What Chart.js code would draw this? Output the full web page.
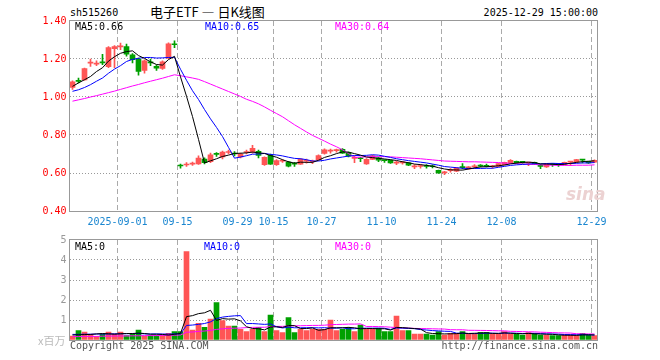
<!DOCTYPE html>
<html lang="zh">
<head>
<meta charset="UTF-8" />
<title>电子ETF 日K线图</title>
<script src="https://cdn.jsdelivr.net/npm/chart.js"></script>
<style>
  body { margin: 0; background: #fff; }
  #box { position: relative; width: 660px; height: 360px; overflow: hidden;
         font-family: 'DejaVu Sans Mono', monospace; font-size: 10px; line-height: 12px; }
  #box canvas { position: absolute; left: 0; }
  .t { position: absolute; white-space: nowrap; }
</style>
</head>
<body>
<div id="box">
  <div class="t" style="left:70px;top:7px">sh515260</div>
  <div class="t" style="left:150px;top:4px;font-family:'Noto Sans CJK SC';font-size:13px;line-height:16px">电子ETF — 日K线图</div>
  <div class="t" style="right:62px;top:7px">2025-12-29 15:00:00</div>

  <canvas id="kline" width="660" height="232" style="top:0"></canvas>
  <canvas id="vol" width="660" height="120" style="top:230px"></canvas>

  <div class="t" style="left:75px;top:21px">MA5:0.66</div>
  <div class="t" style="left:205px;top:21px;color:#0000ff">MA10:0.65</div>
  <div class="t" style="left:335px;top:21px;color:#ff00ff">MA30:0.64</div>
  <div class="t" style="left:566px;top:184px;font-family:'DejaVu Sans';font-size:17px;line-height:20px;font-style:italic;font-weight:bold;color:#ecd2d2">sina</div>

  <div class="t" style="left:75px;top:241px">MA5:0</div>
  <div class="t" style="left:204px;top:241px;color:#0000ff">MA10:0</div>
  <div class="t" style="left:335px;top:241px;color:#ff00ff">MA30:0</div>
  <div class="t" style="left:38px;top:333px;font-family:'Noto Sans CJK SC';font-size:11px;line-height:14px;color:#bbb">x百万</div>

  <div class="t" style="left:70px;top:340px;color:#555">Copyright 2025 SINA.COM</div>
  <div class="t" style="right:62px;top:340px;color:#555">http://finance.sina.com.cn</div>
</div>

<script>
  // trading days shown on the chart
  const dates = [
    '2025-08-20','2025-08-21','2025-08-22','2025-08-25','2025-08-26','2025-08-27','2025-08-28','2025-08-29',
    '2025-09-01','2025-09-02','2025-09-03','2025-09-04','2025-09-05','2025-09-08','2025-09-09','2025-09-10',
    '2025-09-11','2025-09-12','2025-09-15','2025-09-16','2025-09-17','2025-09-18','2025-09-19','2025-09-22',
    '2025-09-23','2025-09-24','2025-09-25','2025-09-26','2025-09-29','2025-09-30','2025-10-09','2025-10-10',
    '2025-10-13','2025-10-14','2025-10-15','2025-10-16','2025-10-17','2025-10-20','2025-10-21','2025-10-22',
    '2025-10-23','2025-10-24','2025-10-27','2025-10-28','2025-10-29','2025-10-30','2025-10-31','2025-11-03',
    '2025-11-04','2025-11-05','2025-11-06','2025-11-07','2025-11-10','2025-11-11','2025-11-12','2025-11-13',
    '2025-11-14','2025-11-17','2025-11-18','2025-11-19','2025-11-20','2025-11-21','2025-11-24','2025-11-25',
    '2025-11-26','2025-11-27','2025-11-28','2025-12-01','2025-12-02','2025-12-03','2025-12-04','2025-12-05',
    '2025-12-08','2025-12-09','2025-12-10','2025-12-11','2025-12-12','2025-12-15','2025-12-16','2025-12-17',
    '2025-12-18','2025-12-19','2025-12-22','2025-12-23','2025-12-24','2025-12-25','2025-12-26','2025-12-29'
  ];
  // indexes of the dates that get a label and a grid line
  const dateTickIdx = [8, 18, 28, 34, 42, 52, 62, 72, 87];

  const open = [
    1.050,1.085,1.090,1.178,1.173,1.185,1.160,1.255,1.264,1.265,
    1.222,1.200,1.140,1.184,1.162,1.150,1.205,1.280,0.640,0.642,
    0.647,0.648,0.673,0.660,0.700,0.685,0.708,0.702,0.685,0.708,
    0.712,0.714,0.644,0.693,0.644,0.662,0.658,0.648,0.647,0.662,
    0.659,0.670,0.703,0.715,0.718,0.725,0.706,0.677,0.677,0.648,
    0.672,0.680,0.667,0.667,0.652,0.653,0.653,0.632,0.634,0.636,
    0.635,0.614,0.601,0.612,0.609,0.632,0.621,0.633,0.638,0.637,
    0.633,0.635,0.644,0.653,0.661,0.661,0.652,0.656,0.637,0.632,
    0.647,0.648,0.645,0.657,0.658,0.670,0.661,0.657
  ];
  const high = [
    1.085,1.100,1.152,1.200,1.190,1.225,1.265,1.270,1.284,1.278,
    1.228,1.205,1.195,1.200,1.168,1.190,1.285,1.295,0.647,0.655,
    0.657,0.690,0.680,0.705,0.708,0.715,0.720,0.713,0.705,0.720,
    0.745,0.720,0.685,0.700,0.670,0.670,0.662,0.656,0.676,0.673,
    0.668,0.695,0.727,0.726,0.726,0.728,0.710,0.690,0.683,0.676,
    0.693,0.684,0.668,0.669,0.661,0.661,0.655,0.644,0.644,0.644,
    0.643,0.616,0.609,0.623,0.628,0.649,0.634,0.644,0.644,0.647,
    0.640,0.650,0.658,0.670,0.663,0.662,0.656,0.658,0.644,0.649,
    0.648,0.650,0.658,0.662,0.672,0.671,0.662,0.669
  ];
  const low = [
    1.040,1.074,1.088,1.161,1.165,1.170,1.155,1.155,1.249,1.215,
    1.180,1.115,1.125,1.165,1.140,1.145,1.200,1.260,0.626,0.635,
    0.640,0.645,0.648,0.655,0.687,0.674,0.700,0.690,0.680,0.700,
    0.705,0.680,0.640,0.645,0.640,0.656,0.632,0.634,0.645,0.652,
    0.649,0.668,0.699,0.705,0.710,0.703,0.685,0.655,0.660,0.645,
    0.670,0.660,0.656,0.651,0.644,0.647,0.638,0.623,0.626,0.626,
    0.627,0.598,0.591,0.604,0.607,0.621,0.620,0.626,0.632,0.632,
    0.626,0.633,0.642,0.651,0.651,0.650,0.639,0.645,0.623,0.630,
    0.635,0.635,0.643,0.640,0.656,0.653,0.651,0.655
  ];
  const close = [
    1.080,1.082,1.150,1.180,1.176,1.180,1.260,1.265,1.267,1.225,
    1.197,1.135,1.190,1.180,1.152,1.185,1.280,1.275,0.637,0.644,
    0.649,0.678,0.655,0.695,0.698,0.710,0.710,0.700,0.700,0.710,
    0.730,0.692,0.682,0.647,0.666,0.663,0.636,0.646,0.673,0.664,
    0.661,0.692,0.722,0.717,0.720,0.705,0.688,0.680,0.675,0.672,
    0.690,0.668,0.665,0.653,0.654,0.655,0.641,0.634,0.636,0.634,
    0.633,0.601,0.603,0.615,0.626,0.628,0.632,0.636,0.636,0.635,
    0.635,0.649,0.656,0.667,0.653,0.653,0.654,0.647,0.635,0.647,
    0.645,0.646,0.656,0.661,0.670,0.668,0.653,0.667
  ];
  const ma5 = [
    1.056,1.074,1.091,1.108,1.134,1.154,1.189,1.212,1.230,1.239,
    1.243,1.218,1.203,1.185,1.171,1.168,1.197,1.214,1.106,1.004,
    0.897,0.777,0.653,0.664,0.675,0.687,0.694,0.703,0.704,0.706,
    0.710,0.706,0.703,0.692,0.683,0.670,0.659,0.652,0.657,0.656,
    0.656,0.667,0.682,0.691,0.702,0.711,0.710,0.702,0.694,0.684,
    0.681,0.677,0.674,0.670,0.666,0.659,0.654,0.647,0.644,0.640,
    0.636,0.628,0.621,0.617,0.616,0.615,0.621,0.627,0.632,0.633,
    0.635,0.638,0.642,0.648,0.652,0.656,0.657,0.655,0.648,0.647,
    0.646,0.644,0.646,0.651,0.656,0.660,0.662,0.664
  ];
  const ma10 = [
    1.030,1.038,1.050,1.065,1.083,1.100,1.125,1.147,1.165,1.187,
    1.198,1.204,1.208,1.208,1.205,1.206,1.208,1.209,1.146,1.088,
    1.033,0.987,0.934,0.885,0.840,0.792,0.735,0.678,0.684,0.691,
    0.699,0.700,0.703,0.698,0.695,0.690,0.683,0.677,0.675,0.670,
    0.663,0.663,0.667,0.674,0.679,0.684,0.689,0.692,0.692,0.693,
    0.696,0.694,0.688,0.682,0.675,0.670,0.665,0.661,0.657,0.653,
    0.647,0.641,0.634,0.631,0.628,0.625,0.624,0.624,0.624,0.625,
    0.625,0.630,0.635,0.640,0.643,0.645,0.647,0.649,0.648,0.650,
    0.651,0.650,0.650,0.650,0.651,0.653,0.653,0.655
  ];
  const ma30 = [
    0.978,0.985,0.992,1.000,1.007,1.015,1.023,1.031,1.040,1.049,
    1.058,1.066,1.075,1.083,1.091,1.099,1.108,1.117,1.112,1.106,
    1.100,1.093,1.081,1.068,1.055,1.042,1.029,1.016,1.003,0.988,
    0.977,0.964,0.948,0.930,0.913,0.896,0.875,0.854,0.835,0.816,
    0.798,0.783,0.768,0.752,0.738,0.722,0.702,0.682,0.684,0.685,
    0.686,0.686,0.686,0.685,0.683,0.681,0.679,0.677,0.675,0.672,
    0.669,0.666,0.663,0.662,0.661,0.660,0.659,0.659,0.658,0.657,
    0.656,0.655,0.652,0.651,0.649,0.647,0.646,0.645,0.643,0.642,
    0.641,0.640,0.640,0.640,0.641,0.641,0.641,0.643
  ];
  // volume, millions of shares
  const volume = [
    0.20,0.47,0.40,0.28,0.17,0.30,0.40,0.30,0.40,0.22,
    0.30,0.50,0.20,0.22,0.22,0.25,0.33,0.42,0.42,4.42,
    0.50,0.83,0.63,1.05,1.87,0.97,0.70,0.70,0.53,0.42,
    0.53,0.63,0.42,1.25,0.47,0.37,1.12,0.37,0.53,0.47,
    0.53,0.53,0.53,1.00,0.47,0.53,0.63,0.42,0.75,0.53,
    0.53,0.58,0.42,0.42,1.20,0.47,0.47,0.30,0.30,0.30,
    0.25,0.42,0.25,0.33,0.33,0.42,0.30,0.30,0.38,0.38,
    0.30,0.30,0.42,0.30,0.30,0.25,0.37,0.33,0.25,0.25,
    0.22,0.22,0.25,0.25,0.22,0.33,0.25,0.22
  ];
  const volMa5 = [
    0.250,0.260,0.270,0.280,0.304,0.324,0.310,0.290,0.314,0.324,
    0.324,0.344,0.324,0.288,0.288,0.278,0.244,0.288,0.328,1.168,
    1.218,1.318,1.360,1.486,0.976,1.070,1.044,1.058,0.954,0.664,
    0.576,0.562,0.506,0.650,0.660,0.628,0.726,0.716,0.572,0.572,
    0.604,0.486,0.518,0.612,0.612,0.612,0.632,0.610,0.560,0.572,
    0.572,0.562,0.562,0.496,0.630,0.618,0.596,0.572,0.548,0.368,
    0.324,0.314,0.304,0.310,0.316,0.350,0.326,0.336,0.346,0.356,
    0.332,0.332,0.356,0.340,0.324,0.314,0.328,0.310,0.300,0.290,
    0.284,0.254,0.238,0.238,0.232,0.254,0.260,0.254
  ];
  const volMa10 = [
    0.280,0.280,0.290,0.290,0.300,0.300,0.300,0.310,0.310,0.314,
    0.324,0.327,0.307,0.301,0.306,0.301,0.294,0.306,0.308,0.728,
    0.748,0.781,0.824,0.907,1.072,1.144,1.181,1.209,1.220,0.820,
    0.823,0.803,0.782,0.802,0.662,0.602,0.644,0.611,0.611,0.616,
    0.616,0.606,0.617,0.592,0.592,0.608,0.559,0.564,0.586,0.592,
    0.592,0.597,0.586,0.528,0.601,0.595,0.579,0.567,0.522,0.499,
    0.471,0.455,0.438,0.429,0.342,0.337,0.320,0.320,0.328,0.336,
    0.341,0.329,0.346,0.343,0.340,0.323,0.330,0.333,0.320,0.307,
    0.299,0.291,0.274,0.269,0.261,0.269,0.257,0.246
  ];
  const volMa30 = [
    0.170,0.170,0.180,0.180,0.180,0.190,0.190,0.200,0.200,0.200,
    0.210,0.210,0.220,0.220,0.220,0.230,0.230,0.240,0.250,0.390,
    0.400,0.430,0.450,0.480,0.530,0.560,0.580,0.590,0.600,0.621,
    0.632,0.637,0.638,0.670,0.680,0.682,0.706,0.709,0.713,0.721,
    0.729,0.730,0.741,0.767,0.775,0.785,0.795,0.795,0.806,0.676,
    0.677,0.669,0.662,0.641,0.618,0.602,0.594,0.581,0.573,0.569,
    0.560,0.553,0.547,0.516,0.512,0.513,0.486,0.484,0.479,0.476,
    0.468,0.460,0.457,0.433,0.428,0.418,0.410,0.407,0.390,0.381,
    0.370,0.358,0.353,0.347,0.314,0.310,0.302,0.300
  ];

  const RED = '#ff5555';
  const GREEN = '#00a000';
  const NONE = 'rgba(0,0,0,0)';
  const candleColor = close.map((c, i) => c >= open[i] ? RED : GREEN);

  Chart.defaults.font.family = "'DejaVu Sans Mono', monospace";
  Chart.defaults.font.size = 10;
  Chart.defaults.animation = false;

  // grey box round the plot area
  const frame = {
    id: 'frame',
    afterDatasetsDraw(chart) {
      const { ctx, chartArea: a } = chart;
      ctx.save();
      ctx.strokeStyle = '#999';
      ctx.lineWidth = 1;
      ctx.strokeRect(a.left, a.top - 0.5, a.right - a.left, a.bottom - a.top + 1);
      ctx.restore();
    }
  };

  const dateGrid = c => dateTickIdx.includes(c.index) ? '#aaa' : NONE;

  function maLine(data, color, order) {
    return { type: 'line', data, borderColor: color, borderWidth: 1, pointRadius: 0, tension: 0, order };
  }

  function xScale(showLabels) {
    return {
      offset: true,
      grid: { offset: true, drawTicks: false, color: dateGrid },
      border: { display: false, dash: [5, 3] },
      ticks: {
        display: showLabels, autoSkip: false, maxRotation: 0, minRotation: 0,
        padding: 5, labelOffset: -3, color: '#1a86d0',
        callback: (v, i) => dateTickIdx.includes(i) ? (i === 8 ? dates[i] : dates[i].slice(5)) : ''
      },
      afterFit: s => { s.height = showLabels ? 21 : 0; }
    };
  }

  new Chart(document.getElementById('kline'), {
    type: 'bar',
    data: {
      labels: dates,
      datasets: [
        maLine(ma5, '#000000', 0),
        maLine(ma10, '#0000ff', 1),
        maLine(ma30, '#ff00ff', 2),
        { data: dates.map((d, i) => [open[i], close[i]]), backgroundColor: candleColor,
          barThickness: 5, minBarLength: 1, grouped: false, order: 3 },
        { data: dates.map((d, i) => [low[i], high[i]]), backgroundColor: candleColor,
          barThickness: 1, minBarLength: 1, grouped: false, order: 4 }
      ]
    },
    options: {
      responsive: false,
      layout: { padding: { top: 21, right: 62.5, left: 0, bottom: 0 } },
      plugins: { legend: { display: false }, tooltip: { enabled: false } },
      scales: {
        x: xScale(true),
        y: {
          min: 0.4, max: 1.4,
          grid: { drawTicks: false, color: c => (c.tick.value > 0.45 && c.tick.value < 1.35) ? '#999' : NONE },
          border: { display: false, dash: [1, 2] },
          ticks: { stepSize: 0.2, padding: 3, color: '#ff0000', callback: v => v.toFixed(2) },
          afterFit: s => { s.width = 69.5; }
        }
      }
    },
    plugins: [frame]
  });

  new Chart(document.getElementById('vol'), {
    type: 'bar',
    data: {
      labels: dates,
      datasets: [
        maLine(volMa5, '#000000', 0),
        maLine(volMa10, '#0000ff', 1),
        maLine(volMa30, '#ff00ff', 2),
        { data: volume, backgroundColor: candleColor, barThickness: 5, grouped: false, order: 3 }
      ]
    },
    options: {
      responsive: false,
      layout: { padding: { top: 10, right: 62.5, left: 0, bottom: 10 } },
      plugins: { legend: { display: false }, tooltip: { enabled: false } },
      scales: {
        x: xScale(false),
        y: {
          min: 0, max: 5,
          grid: { drawTicks: false, color: c => (c.tick.value > 0 && c.tick.value < 5) ? '#999' : NONE },
          border: { display: false, dash: [1, 2] },
          ticks: { stepSize: 1, padding: 3, color: '#999', callback: v => v === 0 ? '' : v },
          afterFit: s => { s.width = 69.5; }
        }
      }
    },
    plugins: [frame]
  });
</script>
</body>
</html>
